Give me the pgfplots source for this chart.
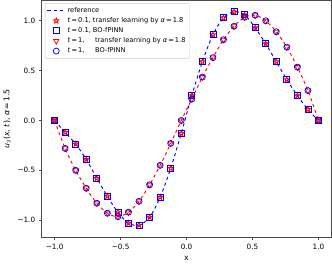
\documentclass[border=0pt]{standalone}
\usepackage{pgfplots}
\pgfplotsset{compat=1.18}
\usepackage{fontspec}
\setmainfont{DejaVu Sans}
\usetikzlibrary{plotmarks}
\pgfdeclareplotmark{fivestar}{%
  \pgfpathmoveto{\pgfqpointpolar{90}{\pgfplotmarksize}}%
  \pgfpathlineto{\pgfqpointpolar{126}{0.42\pgfplotmarksize}}%
  \pgfpathlineto{\pgfqpointpolar{162}{\pgfplotmarksize}}%
  \pgfpathlineto{\pgfqpointpolar{198}{0.42\pgfplotmarksize}}%
  \pgfpathlineto{\pgfqpointpolar{234}{\pgfplotmarksize}}%
  \pgfpathlineto{\pgfqpointpolar{270}{0.42\pgfplotmarksize}}%
  \pgfpathlineto{\pgfqpointpolar{306}{\pgfplotmarksize}}%
  \pgfpathlineto{\pgfqpointpolar{342}{0.42\pgfplotmarksize}}%
  \pgfpathlineto{\pgfqpointpolar{18}{\pgfplotmarksize}}%
  \pgfpathlineto{\pgfqpointpolar{54}{0.42\pgfplotmarksize}}%
  \pgfpathclose
  \pgfusepathqstroke
}
\pgfplotstableread{
x a b
-1.00 0.00 0.00
-0.92 -0.12 -0.28
-0.84 -0.236 -0.50
-0.76 -0.39 -0.68
-0.68 -0.58 -0.83
-0.60 -0.76 -0.93
-0.52 -0.92 -0.965
-0.44 -1.03 -0.92
-0.36 -1.05 -0.81
-0.28 -0.97 -0.645
-0.20 -0.77 -0.45
-0.12 -0.48 -0.23
-0.04 -0.13 0.00
0.04 0.25 0.215
0.12 0.59 0.435
0.20 0.86 0.63
0.28 1.03 0.81
0.36 1.09 0.945
0.44 1.06 1.035
0.52 0.93 1.055
0.60 0.77 1.00
0.68 0.59 0.89
0.76 0.41 0.735
0.84 0.25 0.535
0.92 0.11 0.30
1.00 0.00 0.00
}\data
\newcommand{\eq}{\,=\,}
\begin{document}
\begin{tikzpicture}
\begin{axis}[
  scale only axis,
  width=279bp, height=228bp,
  xmin=-1.1, xmax=1.1, ymin=-1.174, ymax=1.205,
  xtick={-1,-0.5,0,0.5,1},
  xticklabels={−1.0,−0.5,0.0,0.5,1.0},
  ytick={-1,-0.5,0,0.5,1},
  yticklabels={−1.0,−0.5,0.0,0.5,1.0},
  tick label style={font=\fontsize{7}{8}\selectfont},
  label style={font=\fontsize{7.5}{9}\selectfont},
  xlabel={x},
  ylabel={\textit{u}$_2$(\textit{x}, \textit{t}), \textit{α}\,=\,1.5},
  tick align=outside, tick pos=left,
  major tick length=2.5bp,
  axis line style={black!70, line width=0.6pt},
  every tick/.style={black!70, line width=0.6pt},
  legend style={at={(0.012,0.988)}, anchor=north west, font=\fontsize{6.4}{7}\selectfont, draw=black!20, rounded corners=1pt, row sep=-0.6pt, inner sep=1.8pt},
  legend cell align=left,
]
\addplot[color=blue, dashed, line width=0.9pt, smooth, tension=0.5] table[x=x,y=a]{\data};
\addlegendentry{reference}
\addplot[color=red, dashed, line width=0.9pt, smooth, tension=0.5, forget plot] table[x=x,y=b]{\data};
\addplot[only marks, color=red, mark=fivestar, mark size=2.6pt, line width=0.8pt, mark options={draw=red, solid}] table[x=x,y=a]{\data};
\addlegendentry{\textit{t}\eq 0.1, transfer learning by \textit{α}\eq 1.8}
\addplot[only marks, color=blue, mark=square, mark size=2.9pt, line width=0.7pt, mark options={draw=blue, solid}] table[x=x,y=a]{\data};
\addlegendentry{\textit{t}\eq 0.1, BO-fPINN}
\addplot[only marks, color=red, mark=triangle, mark size=3pt, line width=0.7pt, mark options={draw=red, rotate=180, solid}] table[x=x,y=b]{\data};
\addlegendentry{\textit{t}\eq 1,\hphantom{.1}\ \ transfer learning by \textit{α}\eq 1.8}
\addplot[only marks, color=blue, mark=o, mark size=2.9pt, line width=0.7pt, mark options={draw=blue, solid}] table[x=x,y=b]{\data};
\addlegendentry{\textit{t}\eq 1,\hphantom{.1}\ \ BO-fPINN}
\end{axis}
\end{tikzpicture}
\end{document}
